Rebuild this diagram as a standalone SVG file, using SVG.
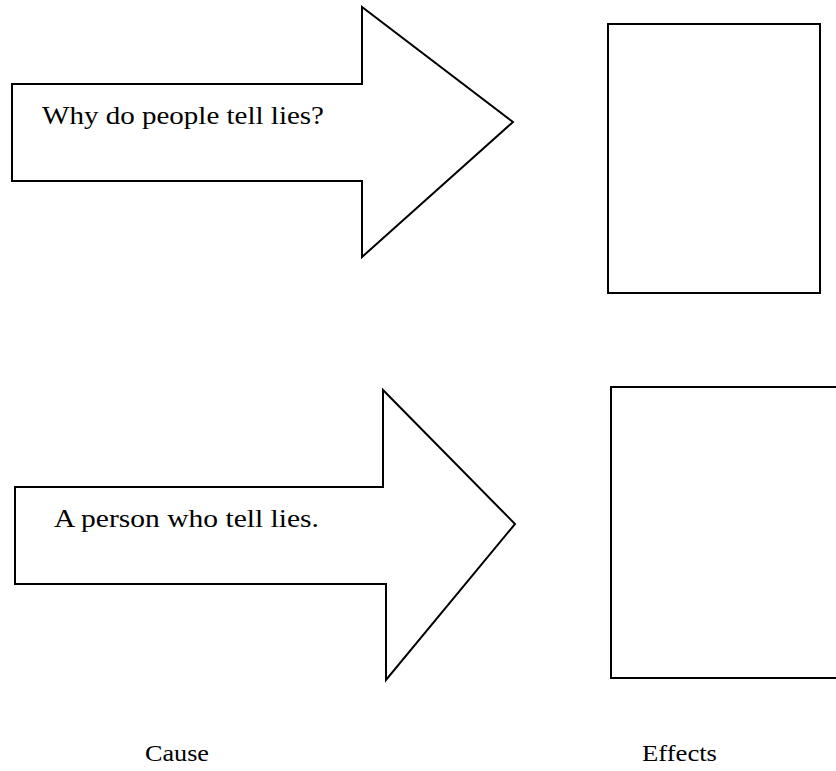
<svg xmlns="http://www.w3.org/2000/svg" width="836" height="771" viewBox="0 0 836 771">
<style>
.shape{fill:#fff;stroke:#000;stroke-width:2;stroke-linejoin:miter}
.t{font-family:"Liberation Serif",serif;font-size:26px;fill:#000}
.l{font-family:"Liberation Serif",serif;font-size:23px;fill:#000}
</style>
<rect width="836" height="771" fill="#fff"/>
<g id="arrow1">
<polygon class="shape" points="12,84 362,84 362,7 513,122 362,257 362,181 12,181"/>
<text class="t" x="42" y="124" textLength="282" lengthAdjust="spacingAndGlyphs">Why do people tell lies?</text>
</g>
<g id="arrow2">
<polygon class="shape" points="15,487 383,487 383,390 515,524 386,680 386,584 15,584"/>
<text class="t" x="54" y="527" textLength="265" lengthAdjust="spacingAndGlyphs">A person who tell lies.</text>
</g>
<g id="box1">
<rect class="shape" x="608" y="24" width="212" height="269"/>
</g>
<g id="box2">
<rect class="shape" x="611" y="387" width="240" height="291"/>
</g>
<g id="labels">
<text class="l" x="145" y="761" textLength="64" lengthAdjust="spacingAndGlyphs">Cause</text>
<text class="l" x="642" y="761" textLength="75" lengthAdjust="spacingAndGlyphs">Effects</text>
</g>
<g id="connectors"/>
</svg>
